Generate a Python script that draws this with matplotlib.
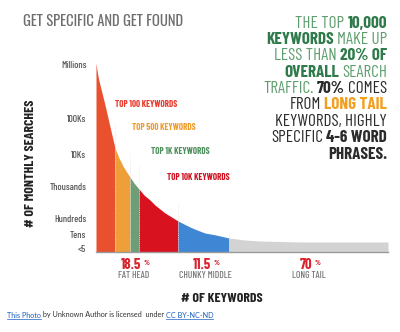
import numpy as np
import matplotlib
matplotlib.use("Agg")
import matplotlib.pyplot as plt
import logging
logging.getLogger("matplotlib.font_manager").setLevel(logging.ERROR)

# curve: keyword position vs height of monthly searches
curve_x = [0, 1, 2, 3, 5, 7, 9, 12, 15, 19, 23, 27, 30, 34, 38, 43, 48, 54, 59, 64,
           69, 74, 82, 88, 94, 101, 109, 120, 133, 141, 149, 164, 184, 204, 292]
curve_y = [189, 182, 176, 171, 163, 155, 147, 134, 121, 104, 94, 86, 81, 75, 69, 63, 57, 52, 47, 43,
           39, 36, 31, 28, 25, 22, 19, 17, 14, 13, 12, 11, 10.5, 10, 10]

seg_edges = [0, 19, 34, 43, 82, 133, 292]
seg_colors = ["#E8502E", "#EE9F3A", "#6E9E78", "#D9121F", "#3F86D4", "#D3D3D3"]
guide_tops = [129, 100, 87, 50, 20]

ytick_pos = [3, 18, 33, 66, 97, 134, 188]
ytick_labels = ["<5", "Tens", "Hundreds", "Thousands", "10Ks", "100Ks", "Millions"]

top_labels = ["TOP 100 KEYWORDS", "TOP 500 KEYWORDS", "TOP 1K KEYWORDS", "TOP 10K KEYWORDS"]
top_colors = ["#E8392B", "#EE9B2E", "#4F8F5E", "#D0101E"]

share_values = ["18.5", "11.5", "70"]
share_names = ["FAT HEAD", "CHUNKY MIDDLE", "LONG TAIL"]

FN = ["Barlow Condensed", "Oswald", "DejaVu Sans"]
GL, GD, DK, OR = "#5E9E6E", "#2F7A4A", "#2b2b2b", "#F2A024"
blurb = [
    [("THE TOP", GL, False), ("10,000", GD, True)],
    [("KEYWORDS", GD, True), ("MAKE UP", GL, False)],
    [("LESS THAN", GL, False), ("20% OF", GD, True)],
    [("OVERALL", GD, True), ("SEARCH", GL, False)],
    [("TRAFFIC.", GL, False), ("70%", DK, True), ("COMES", DK, False)],
    [("FROM", DK, False), ("LONG TAIL", OR, True)],
    [("KEYWORDS, HIGHLY", DK, False)],
    [("SPECIFIC", DK, False), ("4-6 WORD", DK, True)],
    [("PHRASES.", DK, True)],
]

W, H = 400, 332
fig = plt.figure(figsize=(W / 100, H / 100), dpi=100)
fig.patch.set_facecolor("white")


def fx(x):
    return x / W


def fy(y):
    return 1 - y / H


ax = fig.add_axes([fx(96), fy(252), 292 / W, 189 / H])
ax.set_xlim(0, 292)
ax.set_ylim(0, 189)
for s in ax.spines.values():
    s.set_visible(False)
ax.set_xticks([])

cx = np.array(curve_x, dtype=float)
cy = np.array(curve_y, dtype=float)
for i in range(len(seg_colors)):
    a, b = seg_edges[i], seg_edges[i + 1]
    m = (cx >= a) & (cx <= b)
    ax.fill_between(cx[m], 0, cy[m], color=seg_colors[i], lw=0, zorder=2)

for xe, top in zip(seg_edges[1:-1], guide_tops):
    ax.plot([xe, xe], [0, top], color="#e4e4e4", lw=0.6, ls=(0, (1, 1.5)), zorder=3)

ax.plot([0, 292], [0, 0], color="#9a9a9a", lw=1.0, zorder=4, clip_on=False)

ax.set_yticks(ytick_pos)
ax.set_yticklabels(ytick_labels, family=FN, fontsize=7, weight="medium", color="#555555")
ax.tick_params(axis="y", length=0, pad=7)

# labels inside the chart
top_xy = [(115, 105), (132, 128), (151, 152), (167, 178)]
for (x, y), t, c in zip(top_xy, top_labels, top_colors):
    fig.text(fx(x), fy(y), t, family=FN, fontsize=6.5, weight="bold", color=c,
             ha="left", va="center")

fig.text(fx(23), fy(22), "GET SPECIFIC AND GET FOUND", family=["Oswald"] + FN,
         fontsize=10.5, color="#6e6e6e", ha="left", va="center")

fig.text(fx(31), fy(163), "# OF MONTHLY SEARCHES", family=FN, fontsize=10,
         weight="bold", color="#222222", rotation=90, ha="center", va="center")

fig.text(fx(222), fy(298), "# OF KEYWORDS", family=FN, fontsize=10,
         weight="bold", color="#222222", ha="center", va="center")

fig.canvas.draw()
r = fig.canvas.get_renderer()

# share numbers and names below the axis
share_cx = [134, 205, 309]
for cxp, v, n in zip(share_cx, share_values, share_names):
    t = fig.text(fx(cxp - 3), fy(265), v, family=FN, fontsize=10.5, weight="bold",
                 color="#D9232E", ha="center", va="center")
    bb = t.get_window_extent(r)
    fig.text((bb.x1 + 2) / W, fy(263), "%", family=FN, fontsize=5.5, weight="bold",
             color="#D9232E", ha="left", va="center")
    fig.text(fx(cxp), fy(276), n, family=FN, fontsize=6.8, weight="medium",
             color="#777777", ha="center", va="center")

# right-aligned blurb with mixed styles
y0, dy = 23, 16.4
for i, line in enumerate(blurb):
    xr = 387
    for txt, col, bold in reversed(line):
        t = fig.text(fx(xr), fy(y0 + i * dy), txt, family=FN, fontsize=12.3,
                     weight="bold" if bold else "normal", color=col,
                     ha="right", va="center")
        bb = t.get_window_extent(r)
        xr = bb.x0 - 3

# footer credit
xl = 7
for txt, link in [("This Photo", True), (" by Unknown Author is licensed  under ", False),
                  ("CC BY-NC-ND", True)]:
    t = fig.text(fx(xl), fy(315), txt, family=["Lato", "DejaVu Sans"], fontsize=5.2,
                 color="#1a5fc4" if link else "#333333", ha="left", va="center")
    bb = t.get_window_extent(r)
    if link:
        fig.add_artist(plt.Line2D([bb.x0 / W, bb.x1 / W], [(bb.y0 - 0.5) / H] * 2,
                                  color="#1a5fc4", lw=0.5))
    xl = bb.x1

fig.savefig("out.png", dpi=100)
